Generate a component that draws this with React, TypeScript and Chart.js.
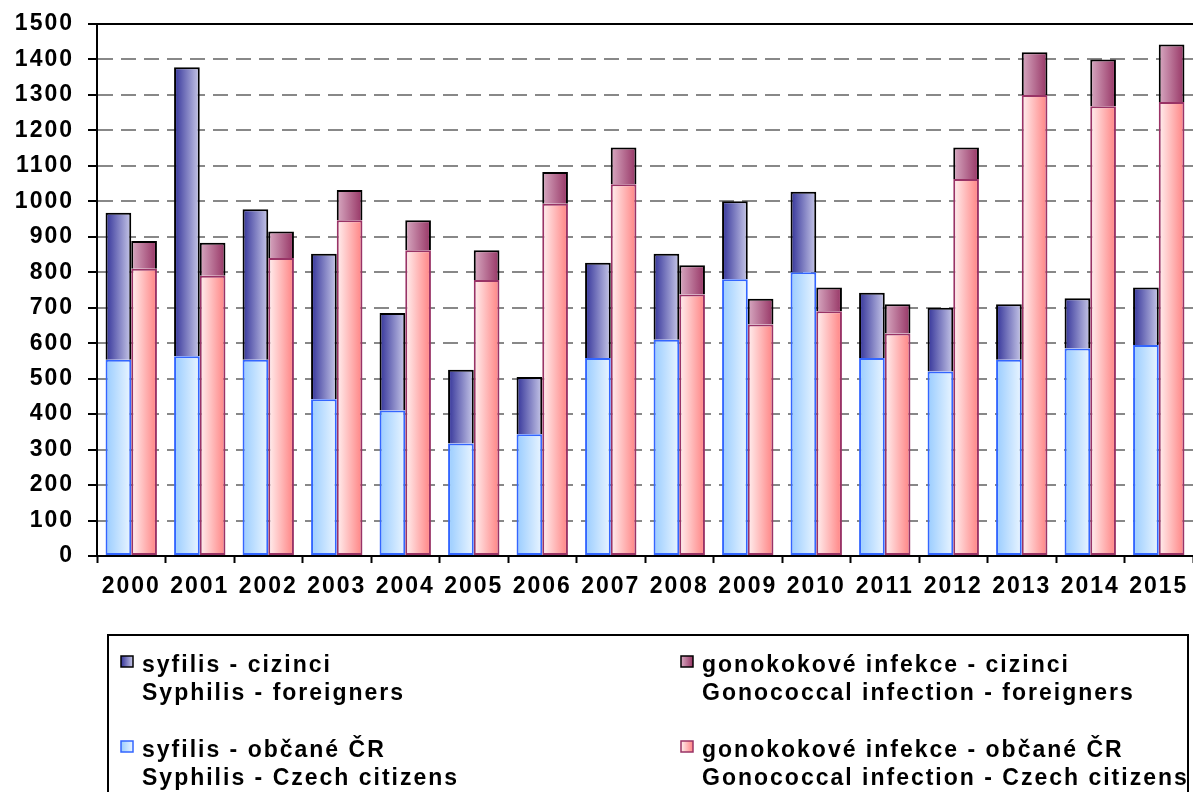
import React, { useEffect, useRef } from "react";
import { Chart, registerables } from "chart.js";

Chart.register(...registerables);

const years = ["2000","2001","2002","2003","2004","2005","2006","2007","2008","2009","2010","2011","2012","2013","2014","2015"];
const syphilisCitizens = [553,563,553,442,410,317,343,558,610,780,800,558,520,553,585,595];
const syphilisForeigners = [415,815,425,410,275,208,162,269,242,220,227,184,180,157,142,162];
const gonoCitizens = [810,790,840,947,862,778,993,1048,737,653,690,627,1063,1300,1268,1280];
const gonoForeigners = [78,93,75,85,85,84,90,104,83,72,67,83,89,120,132,162];
const yTicks = [0,100,200,300,400,500,600,700,800,900,1000,1100,1200,1300,1400,1500];

const labelSyphFor = ["syfilis - cizinci", "Syphilis - foreigners"];
const labelSyphCit = ["syfilis - občané ČR", "Syphilis - Czech citizens"];
const labelGonoFor = ["gonokokové infekce - cizinci", "Gonococcal infection - foreigners"];
const labelGonoCit = ["gonokokové infekce - občané ČR", "Gonococcal infection - Czech citizens"];

const FONT = '"Liberation Sans", Arial, sans-serif';
const SPACING = "2px";
const FSIZE = 23;
const CAT_PCT = 0.75;

const STOPS = {
  syphFor: ["#333399", "#c8c8e8"],
  syphCit: ["#99ccff", "#eaf5ff"],
  gonoFor: ["#d8aac2", "#963464"],
  gonoCit: ["#fff0f0", "#ff8282"],
};

function barGradient(stops: string[], side: number) {
  return (c: any) => {
    const chart = c.chart;
    const xs = chart.scales && chart.scales.x;
    if (!xs || !xs.width || c.dataIndex === undefined) return stops[0];
    const center = xs.getPixelForValue(c.dataIndex);
    const cw = xs.width / years.length;
    const bw = (cw * CAT_PCT) / 2;
    const x0 = side === 0 ? center - bw : center;
    const g = chart.ctx.createLinearGradient(x0, 0, x0 + bw, 0);
    g.addColorStop(0, stops[0]);
    g.addColorStop(1, stops[1]);
    return g;
  };
}

const spacingPlugin = {
  id: "spacing",
  beforeUpdate(chart: any) { chart.ctx.letterSpacing = SPACING; },
  beforeLayout(chart: any) { chart.ctx.letterSpacing = SPACING; },
  beforeDraw(chart: any) { chart.ctx.letterSpacing = SPACING; },
};

const topLinePlugin = {
  id: "topLine",
  beforeDatasetsDraw(chart: any) {
    const { ctx, chartArea } = chart;
    ctx.save();
    ctx.strokeStyle = "#000";
    ctx.lineWidth = 2;
    ctx.beginPath();
    ctx.moveTo(chartArea.left, chartArea.top);
    ctx.lineTo(chartArea.right, chartArea.top);
    ctx.stroke();
    ctx.restore();
  },
};

const legendPlugin = {
  id: "boxLegend",
  afterDraw(chart: any) {
    const ctx = chart.ctx;
    const ds = chart.data.datasets;
    ctx.save();
    ctx.letterSpacing = SPACING;
    ctx.strokeStyle = "#000";
    ctx.lineWidth = 2;
    ctx.strokeRect(108, 635, 1080, 220);
    const items = [
      { d: ds[1], stops: STOPS.syphFor, border: "#000", x: 121, y: 656 },
      { d: ds[0], stops: STOPS.syphCit, border: "#3366ff", x: 121, y: 741 },
      { d: ds[3], stops: STOPS.gonoFor, border: "#000", x: 681, y: 656 },
      { d: ds[2], stops: STOPS.gonoCit, border: "#993366", x: 681, y: 741 },
    ];
    ctx.font = `bold ${FSIZE}px ${FONT}`;
    ctx.fillStyle = "#000";
    ctx.textAlign = "left";
    ctx.textBaseline = "alphabetic";
    items.forEach((it) => {
      const g = ctx.createLinearGradient(it.x, 0, it.x + 12, 0);
      g.addColorStop(0, it.stops[0]);
      g.addColorStop(1, it.stops[1]);
      ctx.fillStyle = g;
      ctx.fillRect(it.x, it.y, 12, 11);
      ctx.strokeStyle = it.border;
      ctx.lineWidth = 1.5;
      ctx.strokeRect(it.x, it.y, 12, 11);
      ctx.fillStyle = "#000";
      const lines: string[] = it.d.legendLines;
      ctx.fillText(lines[0], it.x + 21, it.y + 16);
      ctx.fillText(lines[1], it.x + 21, it.y + 44);
    });
    ctx.restore();
  },
};

export default function App() {
  const ref = useRef<HTMLCanvasElement | null>(null);
  useEffect(() => {
    if (!ref.current) return;
    const chart = new Chart(ref.current, {
      type: "bar",
      data: {
        labels: years,
        datasets: [
          {
            label: labelSyphCit.join(" "),
            legendLines: labelSyphCit,
            data: syphilisCitizens,
            stack: "syph",
            backgroundColor: barGradient(STOPS.syphCit, 0),
            borderColor: "#3366ff",
            borderWidth: 2,
            borderSkipped: false,
          } as any,
          {
            label: labelSyphFor.join(" "),
            legendLines: labelSyphFor,
            data: syphilisForeigners,
            stack: "syph",
            backgroundColor: barGradient(STOPS.syphFor, 0),
            borderColor: "#000",
            borderWidth: 2,
            borderSkipped: "start",
          } as any,
          {
            label: labelGonoCit.join(" "),
            legendLines: labelGonoCit,
            data: gonoCitizens,
            stack: "gono",
            backgroundColor: barGradient(STOPS.gonoCit, 1),
            borderColor: "#993366",
            borderWidth: 2,
            borderSkipped: false,
          } as any,
          {
            label: labelGonoFor.join(" "),
            legendLines: labelGonoFor,
            data: gonoForeigners,
            stack: "gono",
            backgroundColor: barGradient(STOPS.gonoFor, 1),
            borderColor: "#000",
            borderWidth: 2,
            borderSkipped: "start",
          } as any,
        ],
      },
      options: {
        responsive: false,
        animation: false,
        layout: { padding: { top: 24, left: 0, right: 0, bottom: 0 } },
        datasets: { bar: { categoryPercentage: CAT_PCT, barPercentage: 1.0 } },
        plugins: {
          legend: { display: false },
          tooltip: { enabled: false },
          title: { display: false },
        },
        scales: {
          x: {
            stacked: true,
            offset: true,
            grid: {
              display: true,
              drawOnChartArea: false,
              drawTicks: true,
              tickLength: 7,
              tickColor: "#000",
              tickWidth: 2,
              offset: true,
            },
            border: { display: true, color: "#000", width: 2 },
            ticks: {
              color: "#000",
              font: { family: FONT, size: FSIZE, weight: "bold" },
              padding: 10,
              maxRotation: 0,
              minRotation: 0,
              autoSkip: false,
            },
            afterFit: (s: any) => { s.height = 236; s.paddingLeft = 0; s.paddingRight = 0; },
          },
          y: {
            stacked: true,
            min: 0,
            max: 1500,
            afterBuildTicks: (s: any) => { s.ticks = yTicks.map((v) => ({ value: v })); },
            grid: {
              color: "#888888",
              lineWidth: 2,
              tickLength: 9,
              tickColor: "#000",
              tickWidth: 2,
            },
            border: { display: true, color: "#000", width: 2, dash: [15, 8] },
            ticks: {
              color: "#000",
              font: { family: FONT, size: FSIZE, weight: "bold" },
              padding: 14,
              callback: (v: any) => String(v),
            },
            afterFit: (s: any) => { s.width = 97; s.paddingTop = 0; s.paddingBottom = 0; },
          },
        },
      } as any,
      plugins: [spacingPlugin, topLinePlugin, legendPlugin],
    });
    return () => chart.destroy();
  }, []);
  return (
    <div style={{ position: "fixed", left: 0, top: 0, width: 1193, height: 792, background: "#fff" }}>
      <canvas ref={ref} width={1193} height={792} style={{ display: "block" }} />
    </div>
  );
}
